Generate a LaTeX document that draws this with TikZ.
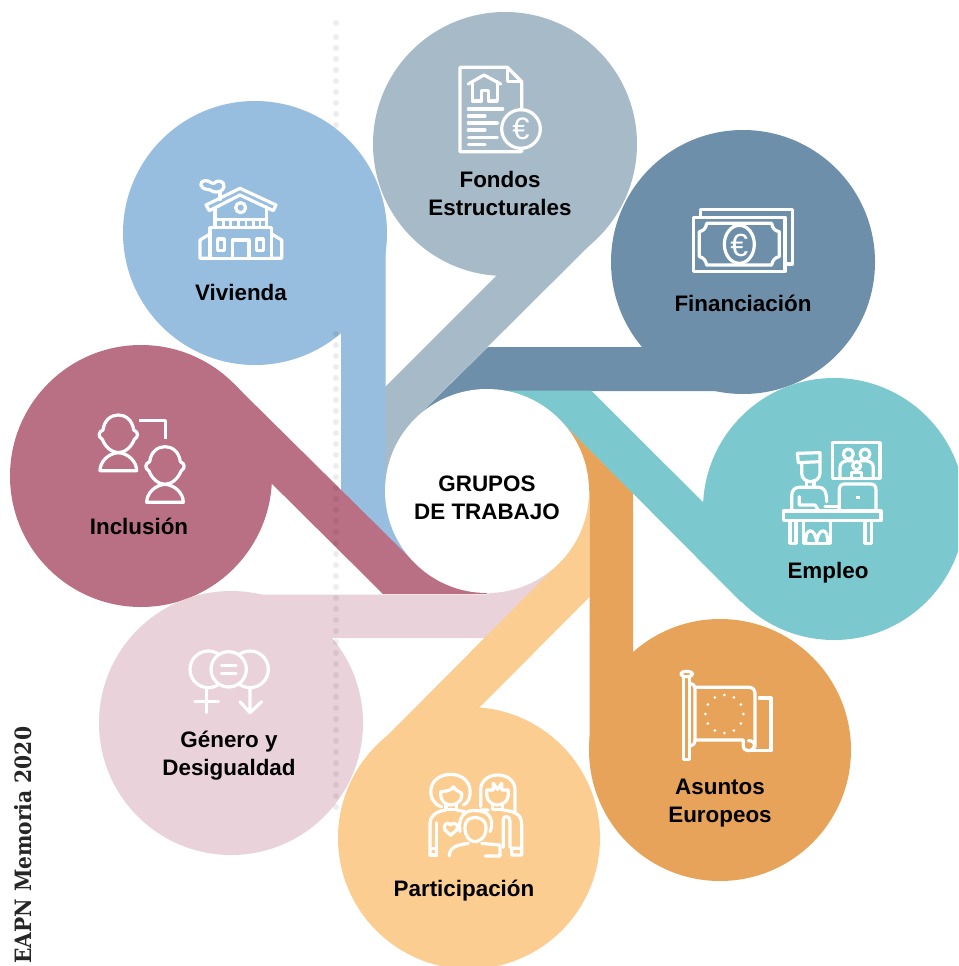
\documentclass[tikz,border=0pt]{standalone}
\usepackage{fontspec}
\newfontfamily\lblfont{Liberation Sans}
\newfontfamily\piefont{DejaVu Serif Condensed}
\definecolor{cviv}{HTML}{97BDDF}
\definecolor{cfon}{HTML}{A6BAC8}
\definecolor{cfin}{HTML}{6E8FA9}
\definecolor{cemp}{HTML}{7BC8CE}
\definecolor{casu}{HTML}{E6A359}
\definecolor{cpar}{HTML}{FBCD91}
\definecolor{cgen}{HTML}{E9D2D9}
\definecolor{cinc}{HTML}{B97084}
\tikzset{
  lbl/.style={font=\lblfont\bfseries\fontsize{22.4}{28}\selectfont,align=center,text=black,inner sep=0pt},
  icon/.style={draw=white,line width=3.2pt,line join=round,line cap=round,fill=none},
  euro/.style={font=\lblfont\fontsize{#1}{#1}\selectfont,text=white,inner sep=0pt},
  dotmark/.style={fill=black,fill opacity=0.07}
}
\begin{document}
\begin{tikzpicture}[x=1pt,y=-1pt]
\useasboundingbox (0,0) rectangle (958,966);
\clip (0,0) rectangle (958,966);
% petals
\fill[cfin] (743,262) circle[radius=132];
\fill[cfin] (415,419)--(488,347)--(720,347)--(720,391)--(487,391)--(487,491)--cycle;
\fill[cfon] (505,144) circle[radius=132];
\fill[cfon] (598,237)--(415,419)--(487,491)--(385,491)--(385,387)--(500,272)--(505,144)--cycle;
\fill[cviv] (255,233) circle[radius=132];
\fill[cviv] (341,270)--(385.5,233)--(385.5,491)--(487,491)--(415,563)--(341,533)--cycle;
\fill[cinc] (141,476) circle[radius=131];
\fill[cinc] (233.5,383.5)--(415,563)--(487,491)--(487,594)--(383,594)--(250,462)--(141,476)--cycle;
\fill[cgen] (231,723) circle[radius=132];
\fill[cgen] (231,594.5)--(487,594.5)--(559,563)--(500,638)--(231,638)--cycle;
\fill[cpar] (469,838) circle[radius=131];
\fill[cpar] (376,747)--(559,563)--(487,491)--(589.5,491)--(589.5,597)--(470,717)--(469,838)--cycle;
\fill[casu] (720,750) circle[radius=131];
\fill[casu] (589.5,750)--(589.5,491)--(487,491)--(559,419)--(633,493)--(633,700)--(720,750)--cycle;
\fill[cemp] (834,509) circle[radius=131];
\fill[cemp] (741,602)--(559,419)--(487,491)--(487,390.5)--(591,390.5)--(750,549)--(834,509)--cycle;
% centre
\fill[white] (487,491) circle[radius=102];
% dotted guide
\fill[dotmark] (336,23) circle[radius=3];
\foreach \k in {0,...,70}{
  \pgfmathsetmacro{\yy}{37+11*\k}
  \pgfmathparse{(\yy>125 && \yy<334) ? 1 : 0}
  \ifnum\pgfmathresult=0 \fill[dotmark] (336,\yy) circle[radius=3]; \fi
}
% labels
\node[lbl] (centro) at (487,497.5) {GRUPOS\\DE TRABAJO};
\node[lbl] (fondos) at (500,193) {Fondos\\Estructurales};
\node[lbl] (vivienda) at (241,292.5) {Vivienda};
\node[lbl] (financiacion) at (743,303) {Financiación};
\node[lbl] (empleo) at (828,572.5) {Empleo};
\node[lbl] (asuntos) at (720,803.5) {Asuntos\\Europeos};
\node[lbl] (participacion) at (464,891) {Participación};
\node[lbl] (genero) at (229,756) {Género y\\Desigualdad};
\node[lbl] (inclusion) at (139,526.5) {Inclusión};
\node[rotate=90,anchor=base west,inner sep=0pt,text=black!85,font=\piefont\bfseries\fontsize{22.5}{24}\selectfont] (pie) at (31,964) {EAPN Memoria 2020};
% icon: Fondos
\begin{scope}[shift={(420,40)},scale=1/3]
 \draw[icon] (305,210)--(305,125)--(262,82)--(120,82)--(120,335)--(305,335)--(305,325);
 \draw[icon] (262,82)--(262,125)--(305,125);
 \draw[icon] (145,132)--(192,105)--(242,132);
 \draw[icon] (157,125)--(157,183)--(185,183)--(185,152)--(205,152)--(205,183)--(232,183)--(232,125);
 \draw[icon] (145,207)--(248,207) (145,228)--(195,228) (145,249)--(232,249) (145,270)--(195,270) (145,292)--(232,292) (145,314)--(195,314);
 \draw[icon] (303,267) circle[radius=58];
 \node[euro=31] (euroa) at (303,267) {€};
\end{scope}
% icon: Vivienda
\begin{scope}[shift={(170,160)},scale=1/3]
 \draw[icon] (110,88) .. controls (90,85) and (85,65) .. (105,62) .. controls (115,60) and (125,72) .. (132,70) .. controls (140,58) and (165,62) .. (162,80) .. controls (160,95) and (140,98) .. (130,95) .. controls (122,90) and (118,88) .. (110,88) -- cycle;
 \draw[icon] (150,97)--(150,118);
 \draw[icon] (108,135)--(210,85)--(318,135)--(310,152)--(210,105)--(118,152)--cycle;
 \draw[icon] (135,145)--(135,203) (290,140)--(290,203) (135,178)--(290,178);
 \draw[icon] (212,143) circle[radius=15];
 \foreach \xx in {160,182,205,228,250,270}{\draw[icon,line width=2.4pt] (\xx,178)--(\xx,203);}
 \draw[icon] (120,203) rectangle (305,295);
 \draw[icon] (120,222)--(90,240)--(90,295)--(120,295);
 \draw[icon] (305,222)--(335,240)--(335,295)--(305,295);
 \draw[icon] (143,237) rectangle (163,272);
 \draw[icon] (260,237) rectangle (280,272);
 \draw[icon] (187,295)--(187,240)--(237,240)--(237,295);
\end{scope}
% icon: Financiacion
\begin{scope}[shift={(670,190)},scale=1/3]
 \draw[icon] (92,80)--(92,58)--(368,58)--(368,222)--(345,222);
 \draw[icon] (70,82) rectangle (345,245);
 \draw[icon] (110,100)--(305,100) .. controls (307,115) and (315,123) .. (328,125) -- (328,200) .. controls (315,202) and (307,212) .. (305,225) -- (110,225) .. controls (108,212) and (100,202) .. (88,200) -- (88,125) .. controls (100,123) and (108,115) .. (110,100) -- cycle;
 \draw[icon] (208,163) ellipse[x radius=45,y radius=57];
 \node[euro=32] (eurob) at (208,165) {€};
\end{scope}
% icon: Empleo
\begin{scope}[shift={(770,430)},scale=1/3]
 \draw[icon] (188,38) rectangle (330,145);
 \draw[icon] (235,72) circle[radius=15] (285,72) circle[radius=15] (260,107) circle[radius=12];
 \draw[icon] (210,140)--(210,112) .. controls (210,97) and (225,92) .. (235,92) -- (248,92);
 \draw[icon] (310,140)--(310,112) .. controls (310,97) and (295,92) .. (285,92) -- (272,92);
 \draw[icon] (245,142)--(245,128)--(275,128)--(275,142);
 \draw[icon] (82,70)--(150,68)--(150,95)--(85,98)--cycle;
 \draw[icon] (95,98)--(95,130) .. controls (95,148) and (112,155) .. (122,155) .. controls (132,155) and (150,148) .. (150,130) -- (150,95);
 \draw[icon] (110,152)--(110,172) (132,152)--(132,172);
 \draw[icon] (65,240)--(65,198) .. controls (65,180) and (75,172) .. (88,172) -- (148,172) .. controls (162,172) and (170,185) .. (170,215);
 \draw[icon] (88,200)--(88,225)--(135,225)--(145,240);
 \draw[icon] (208,240)--(208,180) .. controls (208,168) and (214,162) .. (224,162) -- (302,162) .. controls (312,162) and (318,168) .. (318,180) -- (318,240);
 \fill[white] (259,198) rectangle (270,208);
 \draw[icon] (165,230)--(205,230);
 \draw[icon] (40,243) rectangle (333,272);
 \draw[icon] (60,272)--(60,340)--(78,340)--(78,272);
 \draw[icon] (285,272)--(285,340)--(305,340)--(305,272);
 \draw[icon] (100,272)--(100,340)--(182,340)--(182,272);
 \draw[icon] (108,340) .. controls (102,290) and (138,290) .. (140,340) .. controls (142,290) and (178,290) .. (172,340);
\end{scope}
% icon: Asuntos Europeos
\begin{scope}[shift={(660,660)},scale=1/3]
 \draw[icon] (70,52)--(70,298)--(88,298)--(88,52);
 \draw[icon] (80,42) ellipse[x radius=18,y radius=8];
 \draw[icon] (92,70) .. controls (100,72) and (105,78) .. (105,85) -- (105,240) .. controls (105,250) and (100,256) .. (92,258);
 \draw[icon] (105,82)--(268,82) .. controls (278,82) and (285,90) .. (285,100) -- (285,262);
 \draw[icon] (105,240)--(250,240)--(250,258) .. controls (250,268) and (258,272) .. (265,272) .. controls (275,272) and (283,265) .. (283,255) .. controls (283,245) and (275,242) .. (265,242);
 \draw[icon] (298,114)--(333,114)--(333,272)--(265,272);
 \foreach \a in {0,30,...,330}{\fill[white] ({193+57*cos(\a)},{162+57*sin(\a)}) circle[radius=4.5];}
\end{scope}
% icon: Participacion
\begin{scope}[shift={(410,760)},scale=1/3]
 \draw[icon] (95,140) .. controls (50,130) and (45,45) .. (122,43) .. controls (195,45) and (190,125) .. (160,135);
 \draw[icon] (92,95) .. controls (105,95) and (130,90) .. (130,80) .. controls (140,95) and (150,95) .. (155,100) -- (155,108) .. controls (155,125) and (135,135) .. (122,135) .. controls (105,135) and (92,120) .. (92,105) -- cycle;
 \draw[icon] (108,135)--(108,148)--(140,148)--(140,135);
 \draw[icon] (60,285)--(60,190) .. controls (60,170) and (75,155) .. (108,150);
 \draw[icon] (60,265)--(80,265)--(80,285)--(60,285);
 \draw[icon] (80,265)--(80,188);
 \draw[icon] (140,150)--(165,155);
 \draw[icon] (122,226) -- (105,210) .. controls (95,195) and (115,182) .. (122,195) .. controls (130,182) and (150,195) .. (140,210) -- cycle;
 \draw[icon] (212,140)--(212,90) .. controls (212,30) and (315,30) .. (315,90) -- (315,160);
 \draw[icon] (230,90)--(250,90)--(250,70)--(262,88)--(275,70)--(275,90)--(295,90)--(295,105) .. controls (295,125) and (275,135) .. (262,135) .. controls (250,135) and (230,125) .. (230,105) -- cycle;
 \draw[icon] (248,135)--(248,148)--(278,148)--(278,135);
 \draw[icon] (235,150)--(212,150) (278,150) .. controls (320,155) and (335,165) .. (335,195) -- (335,285)--(305,285)--(305,265)--(335,265);
 \draw[icon] (280,262)--(280,175) .. controls (288,165) and (300,170) .. (300,185) -- (300,262);
 \draw[icon] (165,205) .. controls (165,180) and (175,175) .. (195,172) .. controls (215,175) and (228,180) .. (228,205) .. controls (228,235) and (205,245) .. (195,245) .. controls (180,245) and (165,230) .. (165,205) -- cycle;
 \draw[icon] (150,215) .. controls (140,150) and (190,150) .. (195,152) .. controls (250,150) and (250,195) .. (240,215);
 \draw[icon] (118,288) .. controls (118,265) and (135,255) .. (175,250);
 \draw[icon] (215,250)--(270,255)--(270,288)--(225,288);
\end{scope}
% icon: Genero
\begin{scope}[shift={(170,640)},scale=1/3]
 \draw[icon] (115,88) circle[radius=55] (240,88) circle[radius=55];
 \path[fill=cgen] (176,88) circle[radius=53];
 \draw[icon] (176,88) circle[radius=53];
 \draw[icon] (154,76)--(198,76) (154,100)--(198,100);
 \draw[icon] (110,143)--(110,218) (75,185)--(146,185);
 \draw[icon] (240,143)--(240,218) (210,185)--(240,218)--(275,185);
\end{scope}
% icon: Inclusion
\begin{scope}[shift={(85,400)},scale=1/3]
 \foreach \dx/\dy in {0/0,140/95}{
 \begin{scope}[shift={(\dx,\dy)}]
 \draw[icon] (54,90) .. controls (58,60) and (78,45) .. (100,45) .. controls (122,45) and (142,60) .. (146,90) .. controls (160,95) and (162,110) .. (148,118) .. controls (140,140) and (120,158) .. (100,158) .. controls (80,158) and (60,140) .. (52,118) .. controls (38,110) and (40,95) .. (54,90) -- cycle;
 \draw[icon] (45,212)--(155,212) .. controls (155,185) and (130,160) .. (100,158) .. controls (70,160) and (45,185) .. (45,212) -- cycle;
 \end{scope}}
 \draw[icon,line cap=butt] (163,62)--(242,62)--(242,118);
\end{scope}
\end{tikzpicture}
\end{document}
